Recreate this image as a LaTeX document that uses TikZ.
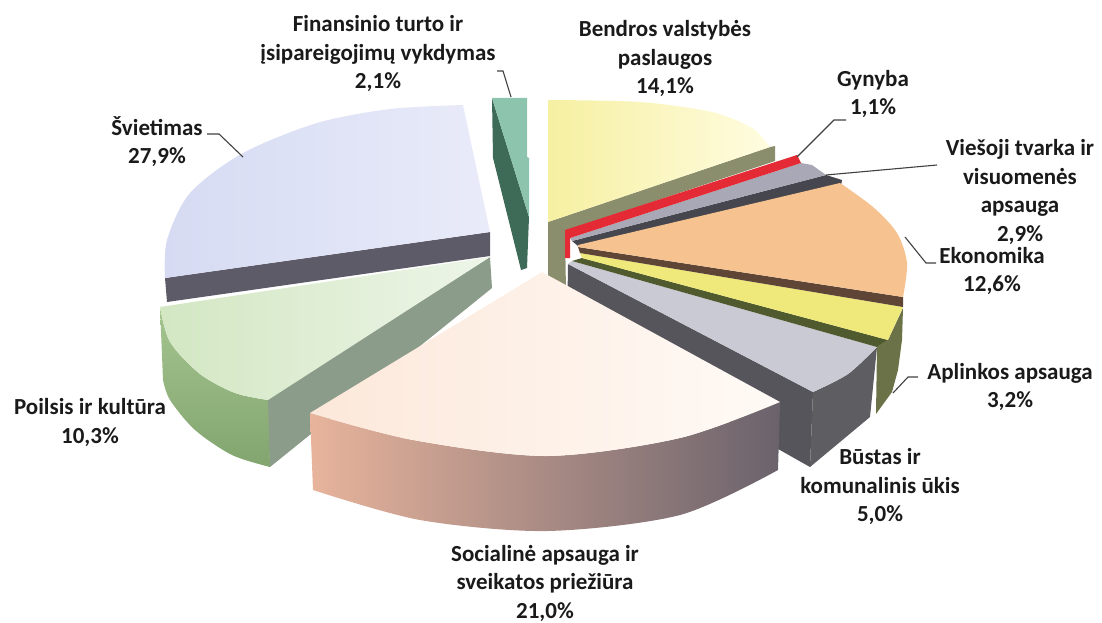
\documentclass[tikz,border=0pt]{standalone}
\usepackage{fontspec}
\setmainfont{Carlito}
\definecolor{svTop}{HTML}{D6DBF3}
\definecolor{svTopL}{HTML}{E9EBF9}
\definecolor{svSide}{HTML}{5D5B68}
\definecolor{poTop}{HTML}{D3E7C3}
\definecolor{poTopL}{HTML}{EDF5E8}
\definecolor{poFrontT}{HTML}{A5C58F}
\definecolor{poFrontB}{HTML}{82A46F}
\definecolor{poSide}{HTML}{8C9C8A}
\definecolor{fiLight}{HTML}{8CC4AE}
\definecolor{fiDark}{HTML}{3D6B58}
\definecolor{beTop}{HTML}{F6F0A2}
\definecolor{beTopL}{HTML}{FFFCE0}
\definecolor{beSide}{HTML}{8B8E6D}
\definecolor{gyRed}{HTML}{E42A35}
\definecolor{veTop}{HTML}{A8A8B6}
\definecolor{veSide}{HTML}{46464E}
\definecolor{ekTop}{HTML}{F6C290}
\definecolor{ekSide}{HTML}{5E4535}
\definecolor{apTop}{HTML}{EFE87A}
\definecolor{apSide}{HTML}{4F5A2E}
\definecolor{apOuter}{HTML}{6C7247}
\definecolor{buTop}{HTML}{CACAD4}
\definecolor{buSide}{HTML}{55555B}
\definecolor{buOuter}{HTML}{5D5D62}
\definecolor{soTop}{HTML}{FCE8DA}
\definecolor{soTopL}{HTML}{FFFAF6}
\definecolor{soL}{HTML}{E8B49C}
\definecolor{soM}{HTML}{C4A0A2}
\definecolor{soR}{HTML}{6A626C}
\definecolor{ink}{HTML}{1A1A1A}
\begin{document}
\begin{tikzpicture}[x=1pt,y=-1pt,
  lbl/.style={font=\fontsize{23}{28.5}\selectfont\bfseries, text=ink, align=center, inner sep=0pt},
  leader/.style={draw=black!75, line width=1.1pt}]
\useasboundingbox (0,0) rectangle (1102,623);

% Finansinio turto
\fill[fiDark] (492,98) -- (493,158) -- (521,270) -- (527,268) -- (529,217) -- cycle;
\fill[fiLight] (492,98) -- (527,98) -- (527,157) -- (529,158) -- (529,217) -- cycle;

% Svietimas
\fill[svSide] (490,232) -- (165,278) -- (167,302) -- (490,256) -- cycle;
\shade[left color=svTop, right color=svTopL] (463,105) -- (490,232) -- (165,278) -- plot[smooth] coordinates {(165,278) (167,240) (190,193) (243,153) (317,123) (390,109) (463,105)} -- cycle;

% Poilsis
\fill[poSide] (266,400) -- (490,257) -- (492,288) -- (270,467) -- cycle;
\shade[top color=poFrontT, bottom color=poFrontB] (160,307) -- plot[smooth] coordinates {(160,307) (170,342) (200,374) (235,393) (268,400)} -- (270,467) -- plot[smooth] coordinates {(270,467) (232,455) (195,430) (170,400) (163,380)} -- cycle;
\shade[left color=poTop, right color=poTopL] (160,307) -- (490,257) -- (268,400) -- plot[smooth] coordinates {(268,400) (235,393) (200,374) (170,342) (160,307)} -- cycle;

% Bustas
\fill[buSide] (568,264) -- (813,392) -- (810,467) -- (567,330) -- cycle;
\fill[buOuter] (813,392) -- plot[smooth] coordinates {(813,392) (848,374) (877,347)} -- (870,417) -- (810,467) -- cycle;
\fill[buTop] (572,261) -- (877,347) -- plot[smooth] coordinates {(877,347) (848,374) (813,392)} -- (568,264) -- cycle;

% Aplinkos
\fill[apOuter] (877,347) -- (888,340) -- (903,308) -- (902,340) -- (898,370) -- (892,392) -- (876,414) -- cycle;
\fill[apSide] (582,258) -- (888,340) -- (877,347) -- (572,261) -- cycle;
\fill[apTop] (580,253) -- (903,307) -- (888,340) -- (582,258) -- cycle;

% Ekonomika side
\fill[ekSide] (578,247) -- (903,297) -- (903,307) -- (580,253) -- cycle;

% Viesoji
\fill[veSide] (572,241) -- (826,175) -- (842,180) -- (841,186) -- (578,246) -- cycle;
\fill[veTop] (570,238) -- (801,163) -- (812,165) -- (826,175) -- (572,241) -- cycle;
% Ekonomika top
\fill[ekTop] (578,245) -- (840,183) -- plot[smooth] coordinates {(840,183) (873,207) (897,233) (907,263) (903,297)} -- (578,247) -- cycle;

% Bendros
\fill[beSide] (548,222) -- (770,147) -- (775,146) -- (775,161) -- (565,231) -- (566,292) -- (548,292) -- cycle;
\shade[left color=beTop, right color=beTopL] (548,100) -- plot[smooth] coordinates {(548,100) (640,102) (712,112) (752,128) (770,147)} -- (548,222) -- cycle;

% Gynyba
\fill[gyRed] (565,230) -- (797,155) -- (801,163) -- (570,238) -- (570,258) -- (565,258) -- cycle;

% Socialine
\shade[left color=soL, middle color=soM, right color=soR] (310,413) -- plot[smooth] coordinates {(310,413) (413,440) (547,456) (680,438) (780,402)} -- (778,470) -- plot[smooth] coordinates {(778,470) (680,515) (547,531) (420,520) (313,490)} -- cycle;
\shade[left color=soTop, right color=soTopL] (542,272) -- (780,402) -- plot[smooth] coordinates {(780,402) (680,438) (547,456) (413,440) (310,413)} -- cycle;

% Labels
\node[lbl] (fin) at (378,53.5) {Finansinio turto ir\\įsipareigojimų vykdymas\\2,1\%};
\node[lbl] (ben) at (665,58.5) {Bendros valstybės\\paslaugos\\14,1\%};
\node[lbl] (gyn) at (873,94) {Gynyba\\1,1\%};
\node[lbl] (vie) at (1020,192) {Viešoji tvarka ir\\visuomenės\\apsauga\\2,9\%};
\node[lbl] (eko) at (992,271) {Ekonomika\\12,6\%};
\node[lbl] (apl) at (1010,387) {Aplinkos apsauga\\3,2\%};
\node[lbl] (bus) at (880,486.5) {Būstas ir\\komunalinis ūkis\\5,0\%};
\node[lbl] (soc) at (545,583) {Socialinė apsauga ir\\sveikatos priežiūra\\21,0\%};
\node[lbl] (poi) at (90,422.5) {Poilsis ir kultūra\\10,3\%};
\node[lbl] (svi) at (157,141.5) {Švietimas\\27,9\%};

% Leaders
\coordinate (fin-a) at (497,71); \coordinate (fin-b) at (503,71); \coordinate (fin-c) at (511,97);
\draw[leader] (fin-a) -- (fin-b) -- (fin-c);
\coordinate (svi-a) at (207,134); \coordinate (svi-b) at (219,134); \coordinate (svi-c) at (243,157);
\draw[leader] (svi-a) -- (svi-b) -- (svi-c);
\coordinate (gyn-a) at (846,120); \coordinate (gyn-b) at (834,120); \coordinate (gyn-c) at (797,157);
\draw[leader] (gyn-a) -- (gyn-b) -- (gyn-c);
\coordinate (vie-a) at (937,165); \coordinate (vie-b) at (826,175);
\draw[leader] (vie-a) -- (vie-b);
\coordinate (eko-a) at (936,263); \coordinate (eko-b) at (926,263); \coordinate (eko-c) at (905,237);
\draw[leader] (eko-a) -- (eko-b) -- (eko-c);
\coordinate (apl-a) at (918,377); \coordinate (apl-b) at (908,377); \coordinate (apl-c) at (893,393);
\draw[leader] (apl-a) -- (apl-b) -- (apl-c);
\end{tikzpicture}
\end{document}
